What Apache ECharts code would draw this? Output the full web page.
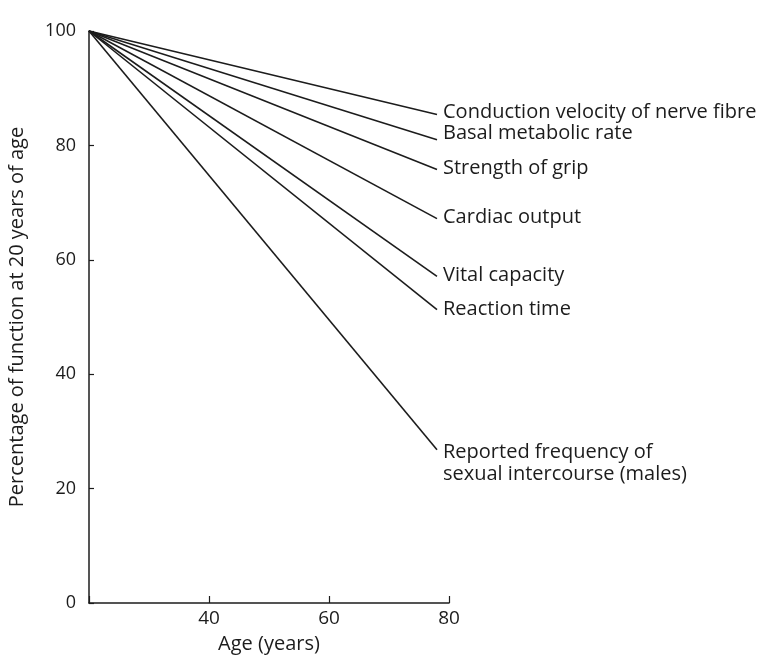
<!DOCTYPE html>
<html>
<head>
<meta charset="utf-8">
<script src="https://cdn.jsdelivr.net/npm/echarts@6/dist/echarts.min.js"></script>
<style>
html,body{margin:0;padding:0;background:#fff;}
#chart{width:766px;height:655px;}
</style>
</head>
<body>
<div id="chart"></div>
<script>
// Data
var ages = [20, 78];
var seriesNames = [
  'Conduction velocity of nerve fibre',
  'Basal metabolic rate',
  'Strength of grip',
  'Cardiac output',
  'Vital capacity',
  'Reaction time',
  'Reported frequency of\nsexual intercourse (males)'
];
var startValues = [100, 100, 100, 100, 100, 100, 100];
var endValues = [85.4, 81.0, 75.8, 67.2, 57.1, 51.3, 26.8];
var labelOffsetY = [-2, -6, -1, -1, -1, 0, 14];
var xTicks = [20, 40, 60, 80];
var yTicks = [0, 20, 40, 60, 80, 100];

var ink = '#1c1c1c';
var font = '"Open Sans", "DejaVu Sans", sans-serif';

var series = seriesNames.map(function (name, i) {
  return {
    name: name,
    type: 'line',
    data: [[ages[0], startValues[i]], [ages[1], endValues[i]]],
    symbol: 'none',
    lineStyle: { color: ink, width: 1.6 },
    animation: false,
    endLabel: {
      show: true,
      formatter: '{a}',
      distance: 0,
      offset: [6, labelOffsetY[i]],
      color: ink,
      fontFamily: font,
      fontSize: 20,
      lineHeight: 22
    }
  };
});

var chart = echarts.init(document.getElementById('chart'));
chart.setOption({
  backgroundColor: '#fff',
  animation: false,
  grid: { left: 89, right: 317, top: 31, bottom: 52, containLabel: false, outerBoundsMode: 'none' },
  xAxis: {
    type: 'value',
    min: xTicks[0],
    max: xTicks[xTicks.length - 1],
    interval: 20,
    name: 'Age (years)',
    nameLocation: 'middle',
    nameGap: 31,
    nameTextStyle: { color: ink, fontFamily: font, fontSize: 20 },
    axisLine: { show: true, lineStyle: { color: ink, width: 1.5 } },
    axisTick: { show: true, inside: true, length: 7, lineStyle: { color: ink, width: 1.2 } },
    axisLabel: {
      color: ink, fontFamily: font, fontSize: 19, margin: 6,
      formatter: function (v) { return v === xTicks[0] ? '' : String(v); }
    },
    splitLine: { show: false }
  },
  yAxis: {
    type: 'value',
    min: yTicks[0],
    max: yTicks[yTicks.length - 1],
    interval: 20,
    name: 'Percentage of function at 20 years of age',
    nameLocation: 'middle',
    nameGap: 62,
    nameTextStyle: { color: ink, fontFamily: font, fontSize: 20 },
    axisLine: { show: true, lineStyle: { color: ink, width: 1.5 } },
    axisTick: { show: true, inside: true, length: 5, lineStyle: { color: ink, width: 1.2 } },
    axisLabel: { color: ink, fontFamily: font, fontSize: 18, margin: 13 },
    splitLine: { show: false }
  },
  series: series
});
</script>
</body>
</html>
